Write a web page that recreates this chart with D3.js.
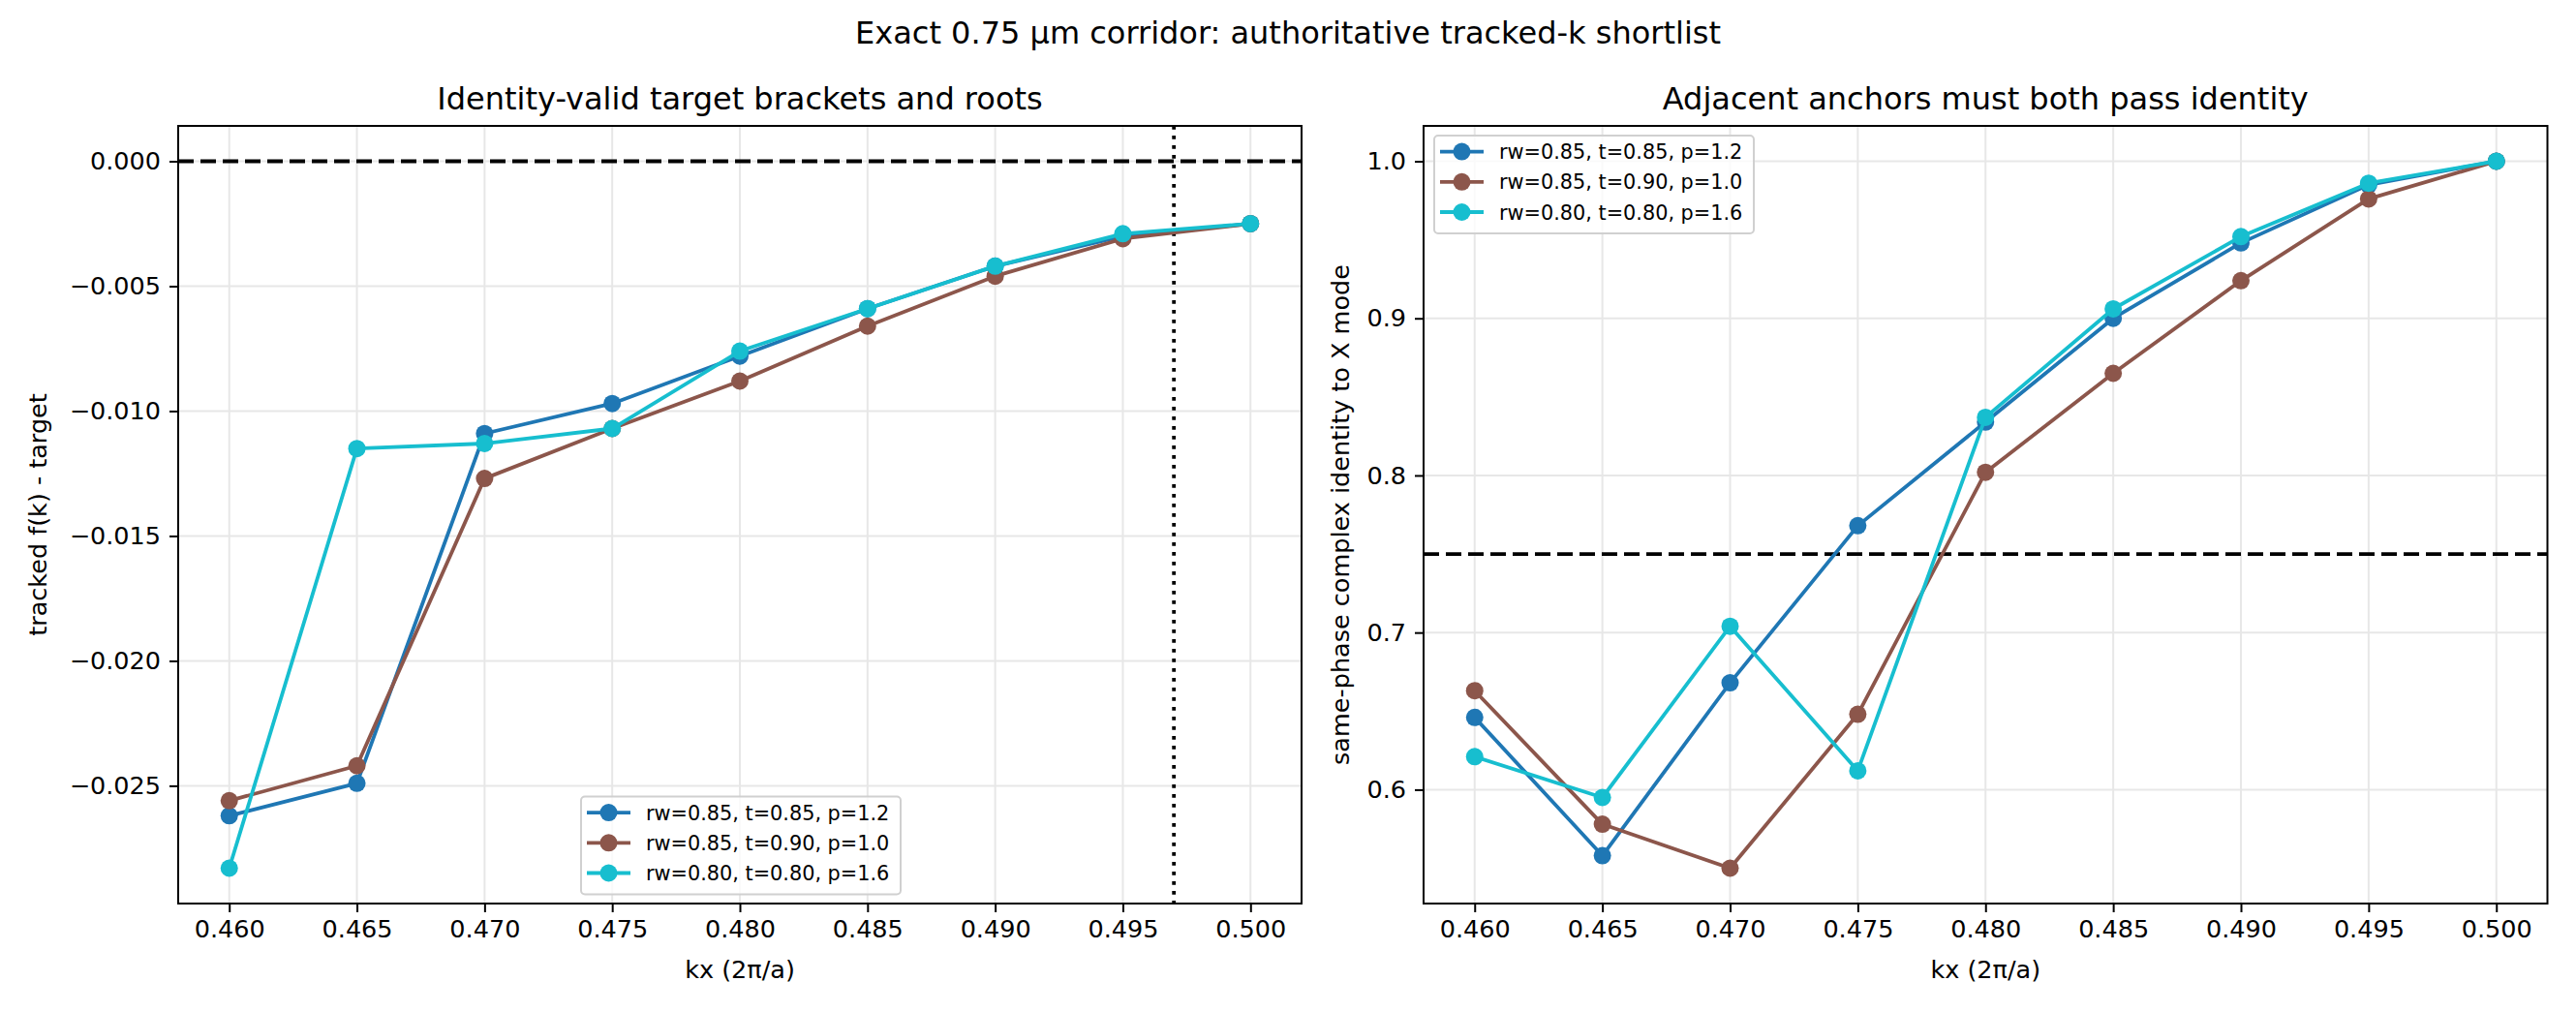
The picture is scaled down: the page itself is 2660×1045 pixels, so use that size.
<!DOCTYPE html>
<html>
<head>
<meta charset="utf-8">
<script src="https://cdn.jsdelivr.net/npm/d3@7"></script>
<style>
  body { margin: 0; background: #fff; }
  svg text { font-family: "DejaVu Sans", sans-serif; fill: #000; }
</style>
</head>
<body>
<div id="chart"></div>
<script>
// kx sample points (2π/a)
const kx = [0.460, 0.465, 0.470, 0.475, 0.480, 0.485, 0.490, 0.495, 0.500];

const seriesNames = ["rw=0.85, t=0.85, p=1.2", "rw=0.85, t=0.90, p=1.0", "rw=0.80, t=0.80, p=1.6"];
const seriesColors = ["#1f77b4", "#8c564b", "#17becf"];

// left panel: tracked f(k) - target
const deltaA = [-0.0262, -0.0249, -0.0109, -0.0097, -0.0078, -0.0059, -0.0042, -0.0030, -0.0025];
const deltaB = [-0.0256, -0.0242, -0.0127, -0.0107, -0.0088, -0.0066, -0.0046, -0.0031, -0.0025];
const deltaC = [-0.0283, -0.0115, -0.0113, -0.0107, -0.0076, -0.0059, -0.0042, -0.0029, -0.0025];

// right panel: same-phase identity to X mode
const identA = [0.646, 0.558, 0.668, 0.768, 0.834, 0.900, 0.948, 0.985, 1.000];
const identB = [0.663, 0.578, 0.550, 0.648, 0.802, 0.865, 0.924, 0.976, 1.000];
const identC = [0.621, 0.595, 0.704, 0.612, 0.837, 0.906, 0.952, 0.986, 1.000];

const xTicks = [0.460, 0.465, 0.470, 0.475, 0.480, 0.485, 0.490, 0.495, 0.500];
const leftYTicks = [-0.025, -0.020, -0.015, -0.010, -0.005, 0.000];
const rightYTicks = [0.6, 0.7, 0.8, 0.9, 1.0];

const rootKx = 0.497;      // dotted vertical marker
const identityCut = 0.75;  // dashed threshold

document.addEventListener("DOMContentLoaded", function() {

    var width = 2660, height = 1045;
    var tickFont = 25.5, titleFont = 32, legendFont = 20.8;

    var svg = d3.select("#chart").append("svg")
        .attr("width", width)
        .attr("height", height);

    svg.append("rect").attr("width", width).attr("height", height).attr("fill", "#fff");

    svg.append("text")
        .attr("x", width / 2).attr("y", 45)
        .attr("text-anchor", "middle")
        .style("font-size", titleFont + "px")
        .text("Exact 0.75 µm corridor: authoritative tracked-k shortlist");

    // matplotlib style 5% padding
    function padded(vals) {
        var lo = d3.min(vals), hi = d3.max(vals);
        var m = (hi - lo) * 0.05;
        return [lo - m, hi + m];
    }

    var drawPanel = function(opt) {
        var x = d3.scaleLinear().domain(padded(kx)).range([opt.left, opt.right]);
        var y = d3.scaleLinear().domain(padded(opt.series.flat().concat(opt.extraY))).range([opt.bottom, opt.top]);

        var g = svg.append("g");

        // grid
        g.append("g").selectAll("line").data(xTicks).enter().append("line")
            .attr("x1", d => x(d)).attr("x2", d => x(d))
            .attr("y1", opt.top).attr("y2", opt.bottom)
            .attr("stroke", "#e7e7e7").attr("stroke-width", 2);
        g.append("g").selectAll("line").data(opt.yTicks).enter().append("line")
            .attr("x1", opt.left).attr("x2", opt.right)
            .attr("y1", d => y(d)).attr("y2", d => y(d))
            .attr("stroke", "#e7e7e7").attr("stroke-width", 2);

        // reference lines
        g.append("line")
            .attr("x1", opt.left).attr("x2", opt.right)
            .attr("y1", y(opt.hline)).attr("y2", y(opt.hline))
            .attr("stroke", "#000").attr("stroke-width", 3.8)
            .attr("stroke-dasharray", "16,7");
        if (opt.vline !== undefined) {
            g.append("line")
                .attr("x1", x(opt.vline)).attr("x2", x(opt.vline))
                .attr("y1", opt.top).attr("y2", opt.bottom)
                .attr("stroke", "#000").attr("stroke-width", 3.8)
                .attr("stroke-dasharray", "3.8,6.2");
        }

        var line = d3.line().x((d, i) => x(kx[i])).y(d => y(d));
        opt.series.forEach(function(vals, s) {
            var sg = g.append("g");
            sg.append("path")
                .attr("d", line(vals))
                .attr("fill", "none")
                .attr("stroke", seriesColors[s])
                .attr("stroke-width", 3.8)
                .attr("stroke-linejoin", "round")
                .attr("stroke-linecap", "square");
            sg.selectAll("circle").data(vals).enter().append("circle")
                .attr("cx", (d, i) => x(kx[i]))
                .attr("cy", d => y(d))
                .attr("r", 9)
                .attr("fill", seriesColors[s]);
        });

        // axes
        var xAxis = g.append("g")
            .attr("transform", "translate(0," + opt.bottom + ")")
            .call(d3.axisBottom(x).tickValues(xTicks).tickFormat(d3.format(".3f"))
                .tickSize(9).tickPadding(8).tickSizeOuter(0));
        var yAxis = g.append("g")
            .attr("transform", "translate(" + opt.left + ",0)")
            .call(d3.axisLeft(y).tickValues(opt.yTicks).tickFormat(d3.format(opt.yFormat))
                .tickSize(9).tickPadding(9).tickSizeOuter(0));
        [xAxis, yAxis].forEach(function(a) {
            a.select(".domain").remove();
            a.selectAll(".tick line").attr("stroke", "#000").attr("stroke-width", 2);
            a.selectAll(".tick text")
                .style("font-size", tickFont + "px")
                .style("font-family", "DejaVu Sans");
        });

        // frame
        g.append("rect")
            .attr("x", opt.left).attr("y", opt.top)
            .attr("width", opt.right - opt.left).attr("height", opt.bottom - opt.top)
            .attr("fill", "none").attr("stroke", "#000").attr("stroke-width", 2);

        g.append("text")
            .attr("x", (opt.left + opt.right) / 2).attr("y", 113)
            .attr("text-anchor", "middle")
            .style("font-size", titleFont + "px")
            .text(opt.title);
        g.append("text")
            .attr("x", (opt.left + opt.right) / 2).attr("y", 1010)
            .attr("text-anchor", "middle")
            .style("font-size", tickFont + "px")
            .text("kx (2π/a)");
        g.append("text")
            .attr("transform", "translate(" + opt.ylabelX + "," + (opt.top + opt.bottom) / 2 + ") rotate(-90)")
            .attr("text-anchor", "middle")
            .style("font-size", tickFont + "px")
            .text(opt.ylabel);

        // legend
        var lg = g.append("g").attr("transform", "translate(" + opt.legend[0] + "," + opt.legend[1] + ")");
        lg.append("rect")
            .attr("width", 330).attr("height", 101).attr("rx", 4)
            .attr("fill", "#fff").attr("fill-opacity", 0.8)
            .attr("stroke", "#d0d0d0").attr("stroke-width", 2);
        seriesNames.forEach(function(name, s) {
            var ry = 16.6 + s * 31.2;
            lg.append("line")
                .attr("x1", 6).attr("x2", 51).attr("y1", ry).attr("y2", ry)
                .attr("stroke", seriesColors[s]).attr("stroke-width", 3.8);
            lg.append("circle").attr("cx", 28.5).attr("cy", ry).attr("r", 9).attr("fill", seriesColors[s]);
            lg.append("text")
                .attr("x", 67).attr("y", ry + 7.5)
                .style("font-size", legendFont + "px")
                .text(name);
        });
    };

    drawPanel({
        left: 184, right: 1344, top: 130, bottom: 933,
        series: [deltaA, deltaB, deltaC], extraY: [0],
        yTicks: leftYTicks, yFormat: ".3f",
        hline: 0, vline: rootKx,
        title: "Identity-valid target brackets and roots",
        ylabel: "tracked f(k) - target", ylabelX: 48,
        legend: [600, 822.5]
    });

    drawPanel({
        left: 1470, right: 2630.5, top: 130, bottom: 933,
        series: [identA, identB, identC], extraY: [identityCut],
        yTicks: rightYTicks, yFormat: ".1f",
        hline: identityCut,
        title: "Adjacent anchors must both pass identity",
        ylabel: "same-phase complex identity to X mode", ylabelX: 1393,
        legend: [1481, 140]
    });
});
</script>
</body>
</html>
